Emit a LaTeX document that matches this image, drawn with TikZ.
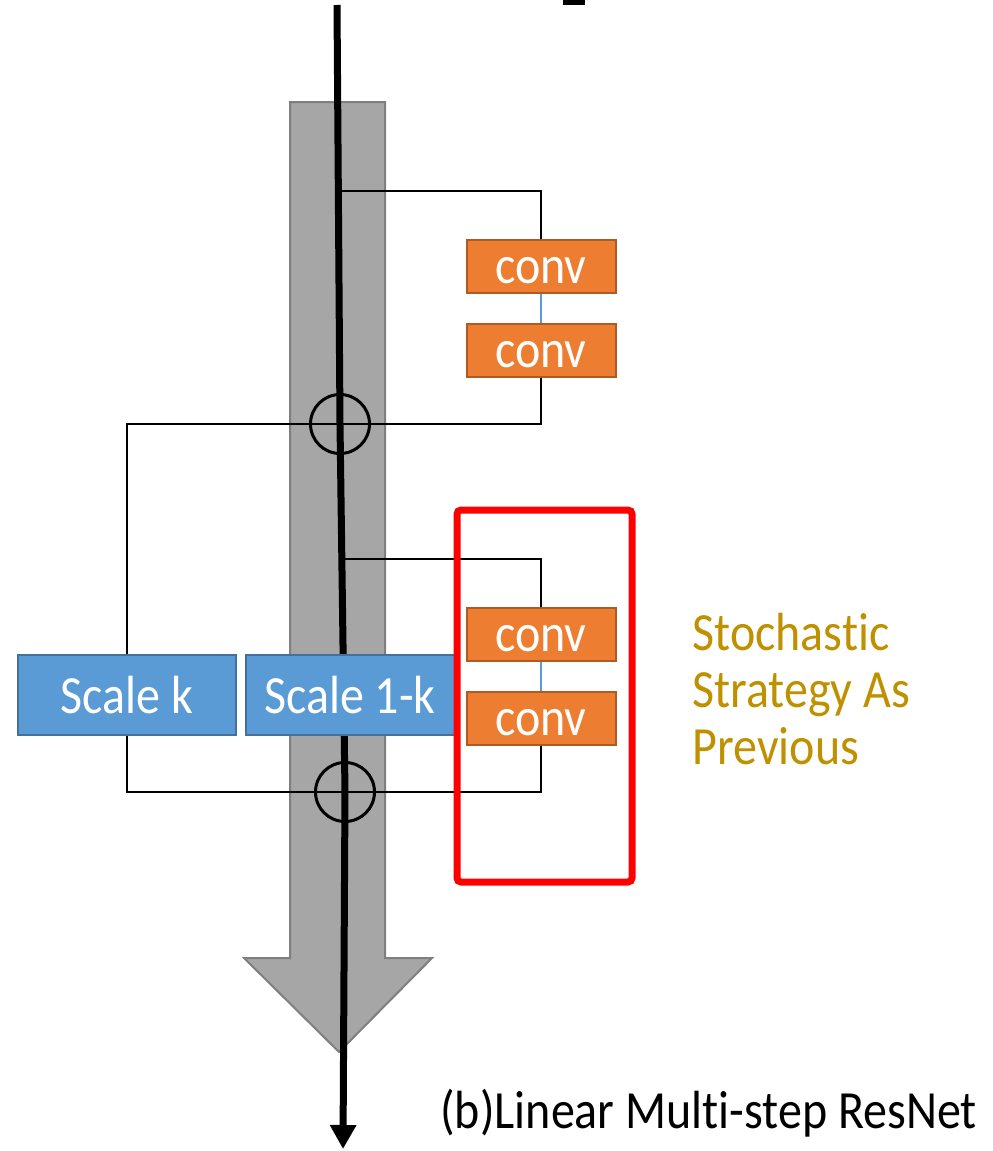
\documentclass[tikz,border=0pt]{standalone}
\usepackage{fontspec}
\setmainfont{Carlito}[Ligatures=NoCommon]
\usetikzlibrary{arrows.meta}
\definecolor{shaftgrey}{HTML}{A6A6A6}
\definecolor{shaftedge}{HTML}{7F7F7F}
\definecolor{convfill}{HTML}{ED7D31}
\definecolor{convedge}{HTML}{AE5A21}
\definecolor{scalefill}{HTML}{5B9BD5}
\definecolor{scaleedge}{HTML}{41719C}
\definecolor{notegold}{HTML}{BF9000}
% slightly tall lettering
\newcommand{\tall}[1]{\scalebox{1}[1.12]{#1}}
\tikzset{
  labelfont/.style={font=\fontsize{24}{28.5}\selectfont},
  convbox/.style={draw=convedge, fill=convfill, line width=1pt, minimum width=74.5pt,
    minimum height=26.5pt, inner sep=0pt, text=white, labelfont,
    text height=17pt, text depth=0pt},
  scalebox/.style={draw=scaleedge, fill=scalefill, line width=1pt, minimum height=40pt,
    inner sep=0pt, text=white, labelfont},
  sumnode/.style={circle, draw=black, line width=1.5pt, minimum size=29.5pt, inner sep=0pt},
  branch/.style={draw=black, line width=0.7pt},
  link/.style={draw=scalefill, line width=0.6pt},
}
\begin{document}
\begin{tikzpicture}[x=0.5pt, y=-0.5pt]
\useasboundingbox (0,0) rectangle (992,1151);

% fragment of a glyph cut off at the top edge
\fill (563,0) rectangle (585,5);

% broad grey arrow behind the main path
\draw[fill=shaftgrey, draw=shaftedge, line width=1pt]
  (290,102) -- (385,102) -- (385,958) -- (432,958) -- (339,1052)
  -- (244,958) -- (290,958) -- cycle;

% main path points
\coordinate (top) at (337,5);
\coordinate (bot) at (343,1149);
\coordinate (t1) at (339,191);
\coordinate (t2) at (341,559);
\node[sumnode] (p1) at (340,424) {};
\node[sumnode] (p2) at (345,792) {};

\draw[line width=3.5pt, -{Triangle[length=12pt, width=12.5pt]}]
  (top) -- (p1.center) -- (p2.center) -- (bot);

% residual branches
\node[convbox] (c1) at (541,266) {\tall{conv}};
\node[convbox] (c2) at (541,350) {\tall{conv}};
\node[convbox] (c3) at (541,634) {\tall{conv}};
\node[convbox] (c4) at (541,718) {\tall{conv}};

\node[scalebox, minimum width=109pt] (sk) at (127,695) {\tall{Scale k}};
\node[scalebox, minimum width=104.5pt] (sk1) at (350,695) {\tall{Scale 1-k}};

\draw[branch] (t1) -| (c1.north);
\draw[link] (c1.south) -- (c2.north);
\draw[branch] (c2.south) |- (p1.center);

\draw[branch] (t2) -| (c3.north);
\draw[link] (c3.south) -- (c4.north);
\draw[branch] (c4.south) |- (p2.center);

\draw[branch, line width=1pt] (p1.center) -| (sk.north);
\draw[branch, line width=1pt] (sk.south) |- (p2.center);

% highlighted block
\draw[red, line width=3.5pt, rounded corners=2pt] (457,510) rectangle (632,882);

\node[anchor=north west, inner sep=0pt, align=left, text=notegold, labelfont]
  (note) at (692,613)
  {\tall{Stochastic}\\\tall{Strategy As}\\\tall{Previous}};

\node[anchor=base west, inner sep=0pt, labelfont]
  (caption) at (440,1128) {\tall{(b)Linear Multi-step ResNet}};
\end{tikzpicture}
\end{document}
